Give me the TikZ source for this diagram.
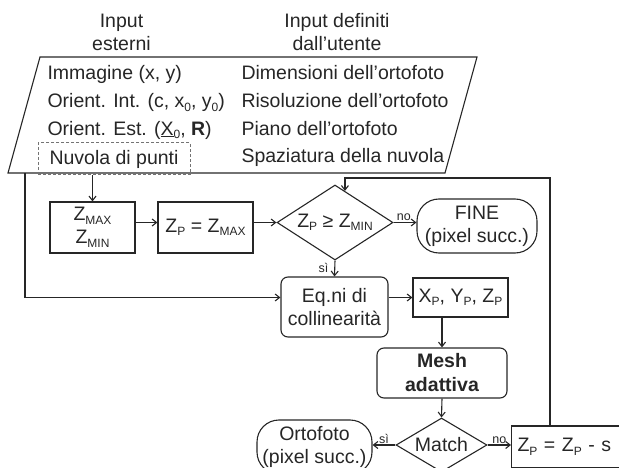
\documentclass[tikz,border=0pt]{standalone}
\usepackage{fontspec}
\setmainfont{Liberation Sans}
\usetikzlibrary{shapes.geometric,arrows.meta,calc}

\newcommand{\lowidx}[1]{\raisebox{-3.5pt}{\fontsize{12}{12}\selectfont #1}}

\begin{document}
\begin{tikzpicture}[x=1pt, y=-1pt,
    every node/.style={font=\fontsize{19.5}{23}\selectfont},
    color=black!85, line width=1.1pt,
    >={Straight Barb[length=4.5pt,width=7pt]},
    item/.style={anchor=base west, inner sep=0pt},
    box/.style={draw, rectangle, inner sep=0pt},
    rbox/.style={box, rounded corners=7pt},
    term/.style={box, rounded corners=22pt},
    choice/.style={draw, diamond, inner sep=0pt, aspect=1.6},
    tag/.style={font=\fontsize{12.5}{14}\selectfont, inner sep=1pt}]
\useasboundingbox (0,0) rectangle (619,468);
\clip (0,0) rectangle (619,468);

% First the input block
\node[align=center] (hext) at (121.5,32) {Input\\esterni};
\node[align=center] (huser) at (337,32) {Input definiti\\dall’utente};
\coordinate (tl) at (40,57);
\coordinate (tr) at (477,57);
\coordinate (br) at (445,173);
\coordinate (bl) at (8,173);
\draw (tl) -- (tr) -- (br) -- (bl) -- cycle;

\node[item] (img) at (47,80) {Immagine (x, y)};
\node[item] (oint) at (47,107.7) {Orient. Int. (c, x\lowidx{0}, y\lowidx{0})};
\node[item] (oest) at (47,135.3) {Orient. Est. (\underline{X}\lowidx{0}, \textbf{R})};
\node[draw, dashed, dash pattern=on 3pt off 2pt, color=black!55, text=black!85,
      line width=1pt, minimum width=152, minimum height=32, inner sep=0pt]
      (cloud) at (114,159) {Nuvola di punti};
\node[item] (dim) at (241,80) {Dimensioni dell’ortofoto};
\node[item] (res) at (241,107.7) {Risoluzione dell’ortofoto};
\node[item] (plane) at (241,135.3) {Piano dell’ortofoto};
\node[item] (gap) at (241,163) {Spaziatura della nuvola};

% Now the height search
\node[box, minimum width=85, minimum height=51, align=center] (zrange) at (92.5,227.5)
      {Z\lowidx{MAX}\\Z\lowidx{MIN}};
\node[box, minimum width=95, minimum height=51] (zstart) at (205.5,227.5)
      {Z\lowidx{P} = Z\lowidx{MAX}};
\node[choice, minimum width=116, minimum height=75] (zcheck) at (335,222.5)
      {Z\lowidx{P} ≥ Z\lowidx{MIN}};
\node[term, minimum width=120, minimum height=54, align=center] (fine) at (477,226)
      {FINE\\(pixel succ.)};

% collinearity and mesh
\node[rbox, minimum width=107, minimum height=60, align=center] (colin) at (334.5,307)
      {Eq.ni di\\collinearità};
\node[box, minimum width=95, minimum height=39] (xyz) at (460.5,297.5)
      {X\lowidx{P}, Y\lowidx{P}, Z\lowidx{P}};
\node[rbox, minimum width=130, minimum height=50, align=center,
      font=\fontsize{19.5}{24}\selectfont\bfseries] (mesh) at (442,373) {Mesh\\adattiva};
\node[choice, minimum width=91, minimum height=54] (match) at (441.5,445) {Match};
\node[term, minimum width=115, minimum height=54, align=center] (orto) at (314.5,447)
      {Ortofoto\\(pixel succ.)};
\node[box, anchor=west, minimum height=42, text width=100, inner xsep=6pt, align=left]
      (zstep) at (511,447) {Z\lowidx{P} = Z\lowidx{P} - s};

% Now the connectors
\coordinate (feed) at (25,173);
\coordinate (back) at (550,178);
\coordinate (entry) at ($(zcheck.north)!0.17!(zcheck.east)$);
\draw[->] (cloud.south -| zrange.north) -- (zrange.north);
\draw[->] (zrange.east |- zcheck.west) -- (zstart.west |- zcheck.west);
\draw[->] (zstart.east |- zcheck.west) -- (zcheck.west);
\draw[->] (zcheck.east) -- (fine.west |- zcheck.east)
      node[tag, pos=0.45, above] (nofine) {no};
\draw[->] (zcheck.south) -- (colin.north)
      node[tag, pos=0.45, left=5pt] (sicolin) {sì};
\draw[->] (feed) |- (colin.west |- xyz.west);
\draw[->] (colin.east |- xyz.west) -- (xyz.west);
\draw[->] (xyz.south -| mesh.north) -- (mesh.north);
\draw[->] (mesh.south) -- (match.north);
\draw[->] (match.west) -- (orto.east |- match.west)
      node[tag, midway, above] (siorto) {sì};
\draw[->] (match.east) -- (zstep.west |- match.east)
      node[tag, midway, above] (nostep) {no};
\draw[->] (zstep.north -| back) -- (back) -| (entry);
\end{tikzpicture}
\end{document}
